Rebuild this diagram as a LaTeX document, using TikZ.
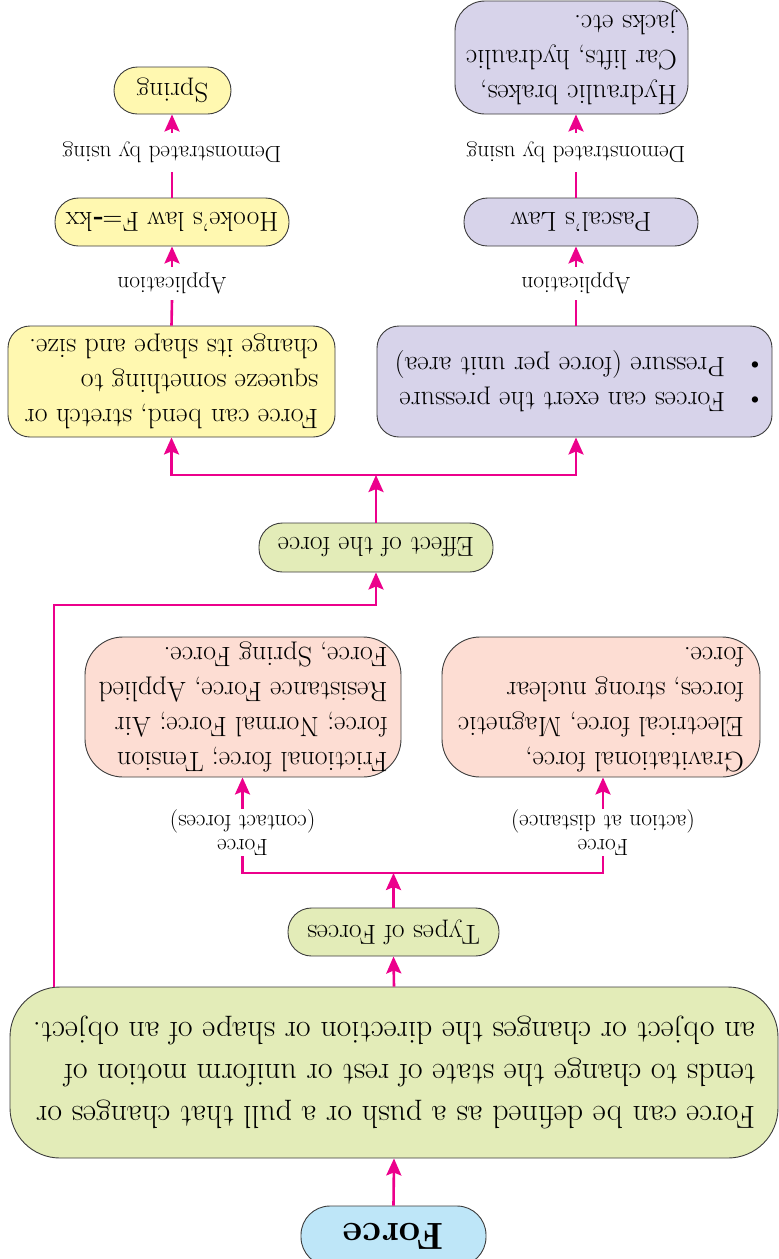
\documentclass[tikz,border=0pt]{standalone}
\usepackage{graphicx}
\usetikzlibrary{arrows.meta}
\definecolor{mag}{HTML}{EC008C}
\definecolor{bordc}{HTML}{3C3C3C}
\definecolor{forcefill}{HTML}{BEE6F8}
\definecolor{greenfill}{HTML}{E3ECB8}
\definecolor{pinkfill}{HTML}{FDDDD3}
\definecolor{yellowfill}{HTML}{FFF8B0}
\definecolor{purplefill}{HTML}{D7D3EA}
\newcommand\flipit[1]{\rotatebox[origin=c]{180}{#1}}
\tikzset{
  box/.style={draw=bordc, line width=0.9pt, inner sep=0pt, align=center, text=black},
  boxtext/.style={font=\fontsize{28}{35}\selectfont},
  pill/.style={box, font=\fontsize{27.5}{33}\selectfont, minimum height=48pt, rounded corners=23.5pt},
  conn/.style={draw=mag, line width=2.6pt},
  arr/.style={conn, -{Stealth[length=17pt,width=15pt,inset=3pt]}},
  lbl/.style={inner sep=0pt, text=black, align=center, font=\fontsize{23.5}{22}\selectfont},
}
\begin{document}
\begin{tikzpicture}[x=1pt,y=-1pt]
\useasboundingbox (0,0) rectangle (779,1259);

% nodes
\node[box, fill=forcefill, minimum width=185pt, minimum height=60pt, rounded corners=29pt,
      font=\bfseries\fontsize{38}{40}\selectfont] (force) at (393.5,1236) {\flipit{Force}};

\node[box, fill=greenfill, minimum width=768pt, minimum height=171pt, rounded corners=50pt,
      font=\fontsize{32}{42}\selectfont] (big) at (394,1072.5)
  {\flipit{\begin{tabular}{@{}l@{}}Force can be defined as a push or a pull that changes or\\
   tends to change the state of rest or uniform motion of\\
   an object or changes the direction or shape of an object.\end{tabular}}};

\node[pill, fill=greenfill, minimum width=211pt] (types) at (393.5,932) {\flipit{Types of Forces}};

\coordinate (jT) at (393.5,873);
\node[lbl, minimum height=41pt] (lblC) at (242.5,832.5)
  {\flipit{\begin{tabular}{@{}c@{}}Force\\(contact forces)\end{tabular}}};
\node[lbl, minimum height=41pt] (lblD) at (603,832.5)
  {\flipit{\begin{tabular}{@{}c@{}}Force\\(action at distance)\end{tabular}}};

\node[box, boxtext, fill=pinkfill, minimum width=316pt, minimum height=138pt, rounded corners=38pt] (pinkL) at (243,707)
  {\flipit{\begin{tabular}{@{}l@{}}Frictional force; Tension\\force; Normal Force; Air\\Resistance Force, Applied\\Force, Spring Force.\end{tabular}}};
\node[box, boxtext, fill=pinkfill, minimum width=318pt, minimum height=138pt, rounded corners=38pt] (pinkR) at (601,707)
  {\flipit{\begin{tabular}{@{}l@{}}Gravitational force,\\Electrical force, Magnetic\\forces, strong nuclear\\force.\end{tabular}}};

\coordinate (cE) at (54,605);
\node[pill, fill=greenfill, minimum width=234pt, minimum height=49pt] (effect) at (376,547.5) {\flipit{Effect of the force}};
\coordinate (jE) at (376,475);

\node[box, boxtext, fill=yellowfill, minimum width=327pt, minimum height=111pt, rounded corners=22pt] (yellow) at (171.5,381.5)
  {\flipit{\begin{tabular}{@{}l@{}}Force can bend, stretch or\\squeeze something to\\change its shape and size.\end{tabular}}};
\node[box, boxtext, fill=purplefill, minimum width=395pt, minimum height=111pt, rounded corners=22pt] (purple) at (574.5,381.5)
  {\flipit{\begin{tabular}{@{}l@{\hspace{20pt}}l@{\hspace{11pt}}}\textbullet & Forces can exert the pressure\\\textbullet & Pressure (force per unit area)\end{tabular}}};

\node[lbl, minimum height=33pt] (app1) at (172,283.5) {\flipit{Application}};
\node[lbl, minimum height=33pt] (app2) at (576,283.5) {\flipit{Application}};

\node[pill, fill=yellowfill, minimum width=234pt] (hooke) at (172,222) {\flipit{Hooke's law F=\textbf{-}kx}};
\node[pill, fill=purplefill, minimum width=234pt] (pascal) at (581,222) {\flipit{Pascal’s Law}};

\node[lbl, minimum height=39pt] (demo1) at (172,152.5) {\flipit{Demonstrated by using}};
\node[lbl, minimum height=39pt] (demo2) at (576,152.5) {\flipit{Demonstrated by using}};

\node[pill, fill=yellowfill, minimum width=117pt, minimum height=47pt] (spring) at (172.5,90.5) {\flipit{Spring}};
\node[box, boxtext, fill=purplefill, minimum width=233pt, minimum height=113pt, rounded corners=30pt] (hydr) at (571.5,57.5)
  {\flipit{\begin{tabular}{@{}l@{}}Hydraulic brakes,\\Car lifts, hydraulic\\jacks etc.\end{tabular}}};

% connectors
\draw[arr] (force.north) -- (big.south);
\draw[arr] (big.north) -- (types.south);
\draw[arr] (types.north) -- (jT);
\draw[conn] (lblC.south) |- (jT) -| (lblD.south);
\draw[arr] (lblC.north) -- (lblC.north |- pinkL.south);
\draw[arr] (lblD.north) -- (lblD.north |- pinkR.south);
\draw[arr] (cE |- big.north) -- (cE) -| (effect.south);
\draw[arr] (effect.north) -- (jE);
\draw[arr] (jE) -| (yellow.south);
\draw[arr] (jE) -| (app2.south |- purple.south);
\draw[conn] (yellow.north) -- (app1.south);
\draw[arr] (app1.north) -- (hooke.south);
\draw[conn] (hooke.north) -- (demo1.south);
\draw[arr] (demo1.north) -- (demo1.north |- spring.south);
\draw[conn] (app2.south |- purple.north) -- (app2.south);
\draw[arr] (app2.north) -- (app2.north |- pascal.south);
\draw[conn] (demo2.south |- pascal.north) -- (demo2.south);
\draw[arr] (demo2.north) -- (demo2.north |- hydr.south);
\end{tikzpicture}
\end{document}
